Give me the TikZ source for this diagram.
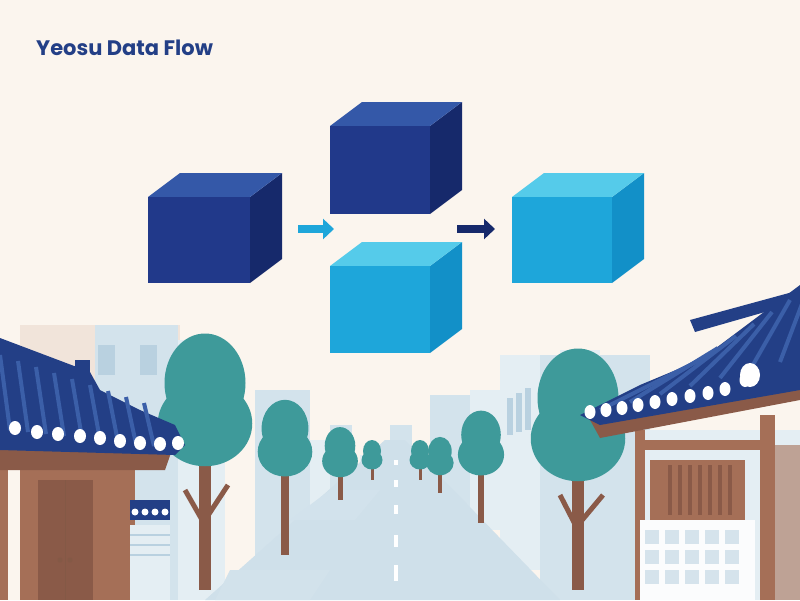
\documentclass[tikz,border=0pt]{standalone}
\usepackage{fontspec}
\setmainfont{Poppins}
\begin{document}
\begin{tikzpicture}[x=1pt,y=-1pt,
 bg/.style={fill=bgc},
 arr/.style={-{Triangle[length=11pt,width=20pt]},line width=8pt}]
\definecolor{bgc}{HTML}{FBF5EE}
\definecolor{treec}{HTML}{3E9A9A}
\definecolor{trunkc}{HTML}{8A5A48}
\definecolor{roofc}{HTML}{233F86}
\definecolor{roofl}{HTML}{3B5FA8}
\definecolor{bA}{HTML}{D3E3EC}
\definecolor{bB}{HTML}{E4EEF3}
\definecolor{bC}{HTML}{F1E4DA}
\definecolor{winc}{HTML}{B9D1E0}
\definecolor{roadc}{HTML}{CFE0EA}
\definecolor{brown}{HTML}{A56F57}
\usetikzlibrary{arrows.meta}
\useasboundingbox (0,0) rectangle (800,600);
\fill[bg] (0,0) rectangle (800,600);
\node[font=\bfseries\fontsize{21}{24}\selectfont,text=roofc,anchor=west,inner sep=0pt] (title) at (36,48) {Yeosu Data Flow};
% cubes
\newcommand{\mycube}[7]{% x y w h top side front
 \fill[#6] (#1+#3,#2) -- (#1+#3+32,#2-24) -- (#1+#3+32,#2+#4-24) -- (#1+#3,#2+#4) -- cycle;
 \fill[#5] (#1,#2) -- (#1+32,#2-24) -- (#1+#3+32,#2-24) -- (#1+#3,#2) -- cycle;
 \fill[#7] (#1,#2) rectangle (#1+#3,#2+#4);}
\definecolor{d1}{HTML}{21398A}\definecolor{d2}{HTML}{3458A8}\definecolor{d3}{HTML}{16296B}
\definecolor{l1}{HTML}{1EA6DA}\definecolor{l2}{HTML}{55CBEA}\definecolor{l3}{HTML}{1290C8}
\mycube{148}{197}{102}{86}{d2}{d3}{d1}
\mycube{330}{126}{100}{88}{d2}{d3}{d1}
\mycube{330}{266}{100}{87}{l2}{l3}{l1}
\mycube{512}{197}{100}{86}{l2}{l3}{l1}
\coordinate (a1) at (298,229); \coordinate (a2) at (334,229);
\coordinate (b1) at (457,229); \coordinate (b2) at (495,229);
\draw[arr,draw=l1] (a1) -- (a2);
\draw[arr,draw=d3] (b1) -- (b2);
% buildings left
\fill[bC] (20,325) rectangle (180,600);
\fill[bA] (95,325) rectangle (178,600);
\fill[bB] (178,340) rectangle (225,600);
\fill[winc] (98,345) rectangle (115,375); \fill[winc] (140,345) rectangle (157,375);
\fill[winc] (185,380) rectangle (193,420); \fill[winc] (200,385) rectangle (208,420);
\fill[bA] (255,390) rectangle (310,560);
\fill[bB] (310,440) rectangle (330,530);
\fill[bA] (330,425) rectangle (352,510);
\fill[bB] (360,455) rectangle (372,500);
\fill[bA] (390,425) rectangle (412,470);
% buildings right
\fill[bA] (430,395) rectangle (475,510);
\fill[bB] (470,390) rectangle (505,530);
\fill[bB] (500,355) rectangle (545,570);
\fill[winc] (507,398) rectangle (513,435);\fill[winc] (516,393) rectangle (522,432);\fill[winc] (525,388) rectangle (531,430);
\fill[bA] (540,355) rectangle (650,600);
\fill[bB] (560,350) rectangle (600,370);
% road
\fill[roadc] (385,440) -- (405,440) -- (560,600) -- (205,600) -- cycle;
\fill[bA!80!roadc] (330,490) -- (380,490) -- (355,520) -- (290,520) -- cycle;
\fill[bA!70!roadc] (230,570) -- (330,570) -- (310,600) -- (215,600) -- cycle;
\foreach \y/\l in {460/5,480/7,505/9,535/12,565/16}
 \fill[white] (393.5,\y) rectangle (397.5,\y+\l);
% trees
\newcommand{\tree}[5]{% x top trunkbottom r trunkwidth
 \fill[trunkc] (#1-#5,#2) rectangle (#1+#5,#3);
 \fill[treec] (#1,#2-1.6*#4) ellipse ({0.9*#4} and {1.1*#4});
 \fill[treec] (#1,#2-0.7*#4) ellipse ({1.05*#4} and {0.95*#4});}
\tree{205}{455}{590}{45}{6}
\draw[trunkc,line width=5pt] (205,525) -- (185,490) (205,520) -- (228,485);
\tree{285}{470}{555}{26}{4}
\tree{340}{473}{500}{17}{2.5}
\tree{372}{467}{480}{10}{1.5}
\tree{420}{467}{480}{10}{1.5}
\tree{440}{472}{493}{13}{2}
\tree{481}{470}{523}{22}{3}
\tree{578}{470}{590}{45}{6}
\draw[trunkc,line width=5pt] (578,530) -- (560,495) (578,525) -- (603,495);
% left hanok
\fill[brown] (20,470) rectangle (135,600);
\fill[trunkc] (38,480) rectangle (93,600);
\draw[brown!80!black,line width=1pt] (65,480) -- (65,600);
\fill[brown!80!black] (60,560) circle (2.5) (70,560) circle (2.5);
\fill[brown] (0,470) rectangle (8,600);
\fill[roofc] (130,500) rectangle (170,520);
\foreach \x in {135,145,155,165} \fill[white] (\x,512) circle (3.5);
\fill[bB] (130,525) rectangle (170,600);
\draw[winc,line width=2pt] (130,535) -- (170,535) (130,545) -- (170,545) (130,555) -- (170,555);
\fill[trunkc] (0,440) -- (172,450) -- (165,470) -- (0,470) -- cycle;
\fill[roofc] (0,338) -- (45,355) -- (90,372) -- (100,390) -- (140,410) -- (175,425) -- (185,445) -- (175,455) -- (0,450) -- cycle;
\foreach \i in {0,...,8} \draw[roofl,line width=4pt] (\i*18,355+\i*6) -- (\i*18+10,430+\i*2);
\foreach \x/\y in {15/428,37/432,58/434,80/436,100/438,120/441,140/443,160/444,178/443}
 \fill[white] (\x,\y) ellipse (6 and 7);
\fill[roofc] (75,360) rectangle (90,372);
% right hanok
\fill[bB] (635,430) rectangle (800,600);
\fill[brown] (635,430) rectangle (645,600);
\fill[brown] (760,415) rectangle (775,600);
\fill[brown] (645,440) rectangle (760,450);
\fill[brown] (650,460) rectangle (745,525);
\foreach \x in {668,678,688,698,708,718,728} \fill[trunkc] (\x,465) rectangle (\x+4,515);
\fill[white!90!bA] (640,520) rectangle (755,600);
\foreach \x in {645,665,685,705,725}{\foreach \y in {530,550,570}\fill[winc!60] (\x,\y) rectangle (\x+14,\y+14);}
\fill[brown!60!bB] (775,445) rectangle (800,600);
\fill[trunkc] (590,420) -- (800,380) -- (800,400) -- (600,438) -- cycle;
\fill[roofc] (580,415) -- (640,385) -- (700,360) -- (740,330) -- (800,285) -- (800,390) -- (600,425) -- cycle;
\fill[roofc] (690,320) -- (800,290) -- (800,302) -- (695,332) -- cycle;
\foreach \i in {0,...,6} \draw[roofl,line width=4pt] (600+\i*30,410-\i*8) -- (700+\i*18,360-\i*12);
\foreach \x/\y in {590/412,606/410,622/408,638/405,655/402,672/399,690/396,708/393,725/389,745/380}
 \fill[white] (\x,\y) ellipse (5.5 and 7);
\fill[white] (750,375) ellipse (10 and 12);
\end{tikzpicture}
\end{document}
